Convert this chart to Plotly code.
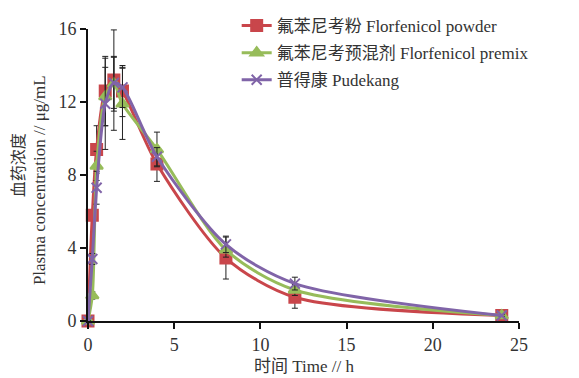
import plotly.graph_objects as go

time_h = [0, 0.25, 0.5, 1, 1.5, 2, 4, 8, 12, 24]

powder = [0, 5.8, 9.4, 12.6, 13.2, 12.6, 8.6, 3.45, 1.3, 0.3]
powder_err = [0, 0.3, 1.3, 1.9, 2.75, 1.4, 0.95, 1.15, 0.6, 0.05]

premix = [0, 1.4, 8.5, 12.3, 13.0, 11.9, 9.4, 3.9, 1.7, 0.3]
premix_err = [0, 0.2, 0.8, 1.6, 1.5, 1.95, 0.95, 0.4, 0.3, 0.05]

pudekang = [0, 3.4, 7.3, 11.9, 13.05, 12.8, 9.0, 4.2, 2.05, 0.3]
pudekang_err = [0, 0.3, 0.9, 2.5, 1.4, 1.1, 0.5, 0.45, 0.35, 0.05]

names = ["氟苯尼考粉 Florfenicol powder", "氟苯尼考预混剂 Florfenicol premix", "普得康 Pudekang"]
x_ticks = [0, 5, 10, 15, 20, 25]
y_ticks = [0, 4, 8, 12, 16]

FONT = "Liberation Serif, Noto Sans CJK SC, serif"

series = [
    (powder, powder_err, names[0], "#C9464B", "square", 11),
    (premix, premix_err, names[1], "#97BC5A", "triangle-up", 11),
    (pudekang, pudekang_err, names[2], "#8064A8", "x-thin-open", 10),
]

fig = go.Figure()
for i, (vals, err, name, color, sym, size) in enumerate(series):
    fig.add_trace(go.Scatter(
        x=time_h, y=vals, name=name, mode="lines+markers",
        legendgroup=f"g{i}",
        line=dict(color=color, width=3, shape="spline", smoothing=0.8),
        marker=dict(symbol=sym, size=size, color=color,
                    line=dict(color=color, width=2)),
        error_y=dict(type="data", array=err, visible=True,
                     color="#222222", thickness=1, width=3),
        cliponaxis=False,
    ))

fig.update_layout(
    width=571, height=370,
    margin=dict(l=80, r=60, t=21, b=57, autoexpand=False),
    paper_bgcolor="white", plot_bgcolor="white",
    font=dict(family=FONT, size=16, color="#333333"),
    showlegend=True,
    legend=dict(xref="container", yref="container", x=0.4005, y=1.018,
                xanchor="left", yanchor="top",
                bgcolor="rgba(0,0,0,0)", tracegroupgap=2,
                font=dict(family=FONT, size=17, color="#333333")),
    xaxis=dict(range=[0, 25], tickvals=x_ticks, showgrid=False, zeroline=False,
               showline=True, linecolor="#111111", linewidth=2,
               ticks="outside", ticklen=6, tickwidth=2, tickcolor="#111111",
               tickfont=dict(family=FONT, size=18, color="#333333")),
    yaxis=dict(range=[0, 16], tickvals=y_ticks, showgrid=False, zeroline=False,
               showline=True, linecolor="#111111", linewidth=2,
               ticks="outside", ticklen=6, tickwidth=2, tickcolor="#111111",
               tickfont=dict(family=FONT, size=18, color="#333333")),
    annotations=[
        dict(text="血药浓度", xref="paper", yref="paper", x=-0.162, y=0.534,
             textangle=-90, showarrow=False, xanchor="center", yanchor="middle",
             font=dict(family=FONT, size=16, color="#333333")),
        dict(text="Plasma concentration // μg/mL", xref="paper", yref="paper",
             x=-0.111, y=0.483, textangle=-90, showarrow=False,
             xanchor="center", yanchor="middle",
             font=dict(family=FONT, size=17, color="#333333")),
        dict(text="时间 Time // h", xref="paper", yref="paper", x=0.5, y=-0.155,
             showarrow=False, xanchor="center", yanchor="middle",
             font=dict(family=FONT, size=17, color="#333333")),
    ],
)

fig.write_html("out.html")
